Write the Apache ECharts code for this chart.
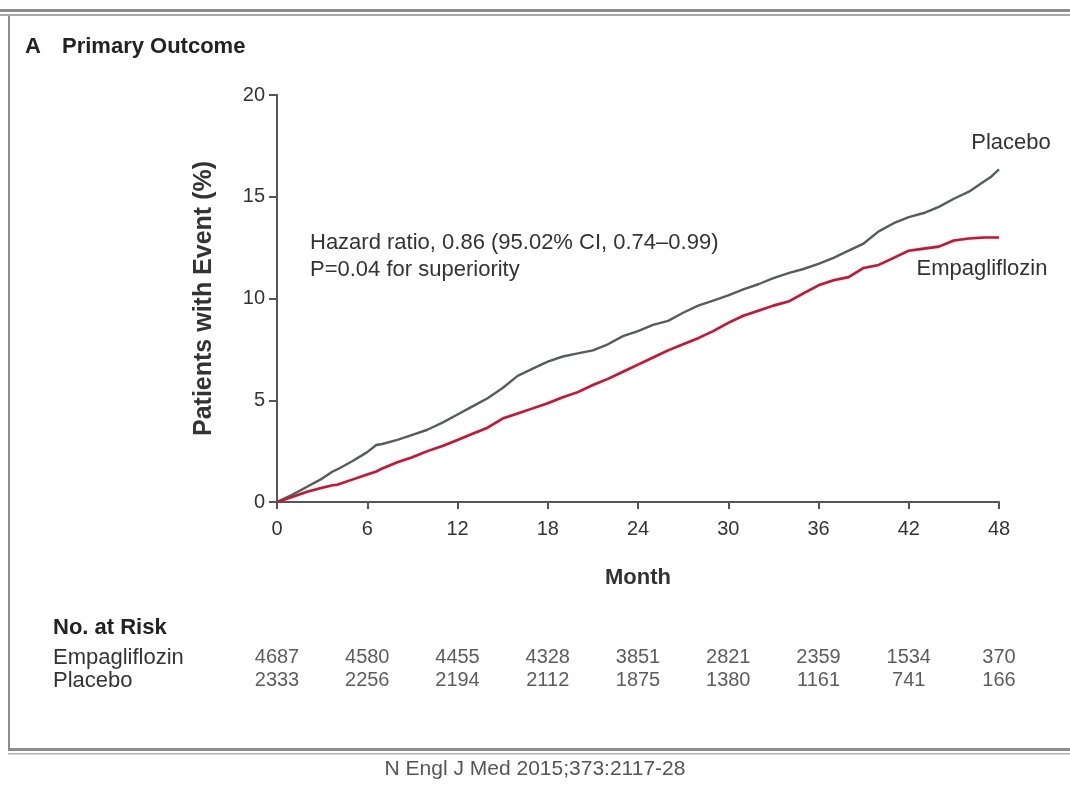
<!DOCTYPE html>
<html>
<head>
<meta charset="utf-8">
<script src="https://cdn.jsdelivr.net/npm/echarts@6/dist/echarts.min.js"></script>
<style>
html,body{margin:0;padding:0;background:#fff;}
#chart{width:1070px;height:785px;}
</style>
</head>
<body>
<div id="chart"></div>
<script>
// ---- data ----
const months = [0,1,2,3,3.7,4,5,6,6.6,7,8,9,10,11,12,13,14,15,16,17,18,19,20,21,22,23,24,25,26,27,28,29,30,31,32,33,34,35,36,37,38,39,40,41,42,43,44,45,46,47,47.5,48];
const placeboPct = [0,0.35,0.75,1.15,1.5,1.6,2.0,2.45,2.8,2.85,3.05,3.3,3.55,3.9,4.3,4.7,5.1,5.6,6.2,6.55,6.9,7.15,7.3,7.45,7.75,8.15,8.4,8.7,8.9,9.3,9.65,9.9,10.15,10.45,10.7,11.0,11.25,11.45,11.7,12.0,12.35,12.7,13.3,13.7,14.0,14.2,14.5,14.9,15.25,15.75,16.0,16.35];
const empaPct    = [0,0.25,0.5,0.7,0.82,0.85,1.1,1.35,1.5,1.65,1.95,2.2,2.5,2.75,3.05,3.35,3.65,4.1,4.35,4.6,4.85,5.15,5.4,5.75,6.05,6.4,6.75,7.1,7.45,7.75,8.05,8.4,8.8,9.15,9.4,9.65,9.85,10.25,10.65,10.9,11.05,11.5,11.65,12.0,12.35,12.45,12.55,12.85,12.95,13.0,13.0,13.0];
const riskMonths = [0,6,12,18,24,30,36,42,48];
const riskGroups = ['Empagliflozin','Placebo'];
const riskEmpa = [4687,4580,4455,4328,3851,2821,2359,1534,370];
const riskPlacebo = [2333,2256,2194,2112,1875,1380,1161,741,166];
const seriesNames = ['Placebo','Empagliflozin'];
const titleLetter = 'A';
const titleText = 'Primary Outcome';
const annotationLines = ['Hazard ratio, 0.86 (95.02% CI, 0.74\u20130.99)','P=0.04 for superiority'];
const riskHeader = 'No. at Risk';
const footer = 'N Engl J Med 2015;373:2117-28';

const FONT = "'Liberation Sans', Arial, sans-serif";
const chart = echarts.init(document.getElementById('chart'), null, {renderer:'canvas'});

const pairs = (xs, ys) => xs.map((x,i)=>[x, ys[i]]);
const riskData = (vals,row) => riskMonths.map((m,i)=>[m,row,vals[i]]);

const axisColor = '#555';
const option = {
  backgroundColor:'#fff',
  animation:false,
  textStyle:{fontFamily:FONT},
  grid:[
    {left:277, right:71, top:95, bottom:283, containLabel:false},
    {left:277, right:71, top:646, bottom:93, containLabel:false}
  ],
  xAxis:[
    {type:'value', gridIndex:0, min:0, max:48, interval:6,
     axisLine:{show:true, lineStyle:{color:axisColor, width:2}},
     axisTick:{show:true, length:7, lineStyle:{color:axisColor, width:2}},
     axisLabel:{fontSize:20, color:'#333', margin:17, fontFamily:FONT},
     splitLine:{show:false},
     name:'Month', nameLocation:'middle', nameGap:65,
     nameTextStyle:{fontSize:22, fontWeight:'bold', color:'#333', fontFamily:FONT}},
    {type:'value', gridIndex:1, min:0, max:48, interval:6, show:false}
  ],
  yAxis:[
    {type:'value', gridIndex:0, min:0, max:20, interval:5,
     axisLine:{show:true, lineStyle:{color:axisColor, width:2}},
     axisTick:{show:true, length:8, lineStyle:{color:axisColor, width:2}},
     axisLabel:{fontSize:20, color:'#333', margin:12, fontFamily:FONT},
     splitLine:{show:false},
     name:'Patients with Event (%)', nameLocation:'middle', nameGap:60,
     nameTextStyle:{fontSize:25, fontWeight:'bold', color:'#333', fontFamily:FONT}},
    {type:'category', gridIndex:1, data:riskGroups, inverse:true,
     axisLine:{show:false}, axisTick:{show:false}, splitLine:{show:false},
     axisLabel:{interval:0, align:'left', margin:224, fontSize:22, color:'#333', fontFamily:FONT}}
  ],
  series:[
    {name:seriesNames[0], type:'line', xAxisIndex:0, yAxisIndex:0, data:pairs(months, placeboPct),
     symbol:'none', lineStyle:{color:'#575c59', width:2.4}, itemStyle:{color:'#575c59'},
     endLabel:{show:true, formatter:seriesNames[0], align:'center', verticalAlign:'middle', offset:[4,-26], fontSize:22, color:'#333', fontFamily:FONT}},
    {name:seriesNames[1], type:'line', xAxisIndex:0, yAxisIndex:0, data:pairs(months, empaPct),
     symbol:'none', lineStyle:{color:'#a3253f', width:2.6, shadowColor:'rgba(220,80,120,0.35)', shadowBlur:3}, itemStyle:{color:'#a3253f'},
     endLabel:{show:true, formatter:seriesNames[1], align:'center', verticalAlign:'middle', offset:[-25,31], fontSize:22, color:'#333', fontFamily:FONT}},
    {type:'scatter', xAxisIndex:1, yAxisIndex:1, data:riskData(riskEmpa,0),
     symbolSize:1, itemStyle:{color:'rgba(0,0,0,0)'}, silent:true,
     label:{show:true, position:'inside', formatter:p=>String(p.value[2]), fontSize:20, color:'#333', fontFamily:FONT}},
    {type:'scatter', xAxisIndex:1, yAxisIndex:1, data:riskData(riskPlacebo,1),
     symbolSize:1, itemStyle:{color:'rgba(0,0,0,0)'}, silent:true,
     label:{show:true, position:'inside', formatter:p=>String(p.value[2]), fontSize:20, color:'#333', fontFamily:FONT}}
  ],
  graphic:[
    {type:'rect', shape:{x:0,y:9,width:1070,height:3}, style:{fill:'#8c8c8c'}, silent:true},
    {type:'rect', shape:{x:0,y:14,width:1070,height:2}, style:{fill:'#a8a8a8'}, silent:true},
    {type:'rect', shape:{x:8,y:16,width:2,height:734}, style:{fill:'#8c8c8c'}, silent:true},
    {type:'rect', shape:{x:8,y:748,width:1062,height:3}, style:{fill:'#8c8c8c'}, silent:true},
    {type:'rect', shape:{x:8,y:753,width:1062,height:1.5}, style:{fill:'#b0b0b0'}, silent:true},
    {type:'text', left:25, top:36, style:{text:titleLetter, font:"bold 22px "+FONT, fill:'#222'}},
    {type:'text', left:62, top:36, style:{text:titleText, font:"bold 22px "+FONT, fill:'#222'}},
    {type:'text', left:310, top:229, style:{text:annotationLines.join('\n'), font:"22px "+FONT, fill:'#333', lineHeight:27}},
    {type:'text', left:53, top:617, style:{text:riskHeader, font:"bold 22px "+FONT, fill:'#222'}},
    {type:'text', left:'center', top:759, style:{text:footer, font:"21px "+FONT, fill:'#555'}}
  ]
};
chart.setOption(option);
</script>
</body>
</html>
